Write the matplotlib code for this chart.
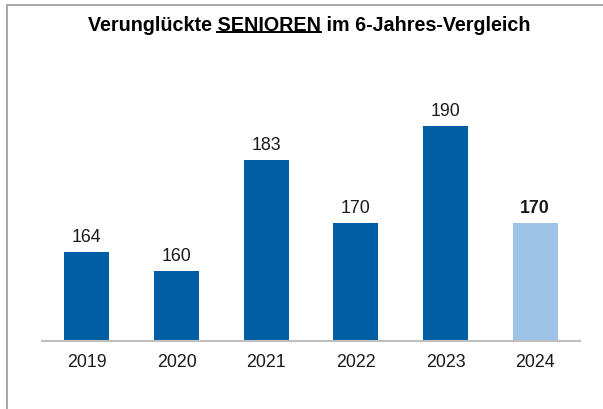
import matplotlib.pyplot as plt
from matplotlib.patches import Rectangle

plt.rcParams['font.family'] = ['Liberation Sans', 'DejaVu Sans']

years = ['2019', '2020', '2021', '2022', '2023', '2024']
values = [164, 160, 183, 170, 190, 170]
colors = ['#005EA5'] * 5 + ['#9DC3E6']

fig = plt.figure(figsize=(6.03, 4.10), dpi=100)

# grey frame (only top and left edge are visible in the original)
fig.patches.append(Rectangle((7 / 603, -0.2), 1.2, 1.2 - 5.5 / 410,
                             transform=fig.transFigure, fill=False,
                             edgecolor='#A0A0A0', linewidth=1.3))

ax = fig.add_axes([42 / 603, 1 - 342 / 410, 538 / 603, (342 - 76.3) / 410])
x = range(len(years))
ax.bar(x, values, width=0.5, color=colors)
ax.set_ylim(145.5, 200.5)
ax.set_xlim(-0.5, 5.5)

for s in ['top', 'right', 'left']:
    ax.spines[s].set_visible(False)
ax.spines['bottom'].set_color('#BFBFBF')
ax.spines['bottom'].set_linewidth(1.5)
ax.set_yticks([])
ax.set_xticks(list(x))
ax.set_xticklabels(years, fontsize=12.8, color='#1a1a1a')
ax.tick_params(axis='x', length=0, pad=9)

for i, v in enumerate(values):
    bold = i == len(values) - 1
    ax.annotate(str(v), (i, v), xytext=(0, 5), textcoords='offset points',
                ha='center', va='bottom', fontsize=12.8, color='#1a1a1a',
                fontweight='bold' if bold else 'normal')

# title with underlined word
fs = 14.2
t1 = fig.text(309 / 603, 1 - 25.5 / 410, 'Verunglückte SENIOREN im 6-Jahres-Vergleich',
              ha='center', va='center', fontsize=fs, fontweight='bold')
fig.canvas.draw()
r = fig.canvas.get_renderer()
bb = t1.get_window_extent(r)
pre = fig.text(0, 0, 'Verunglückte ', fontsize=fs, fontweight='bold')
word = fig.text(0, 0, 'SENIOREN', fontsize=fs, fontweight='bold')
w_pre = pre.get_window_extent(r).width
w_word = word.get_window_extent(r).width
pre.remove()
word.remove()
x0 = (bb.x0 + w_pre) / fig.bbox.width
x1 = (bb.x0 + w_pre + w_word) / fig.bbox.width
yl = 1 - 33 / 410
fig.add_artist(plt.Line2D([x0, x1], [yl, yl], transform=fig.transFigure,
                          color='black', linewidth=1.4))

fig.savefig('out.png', dpi=100)
